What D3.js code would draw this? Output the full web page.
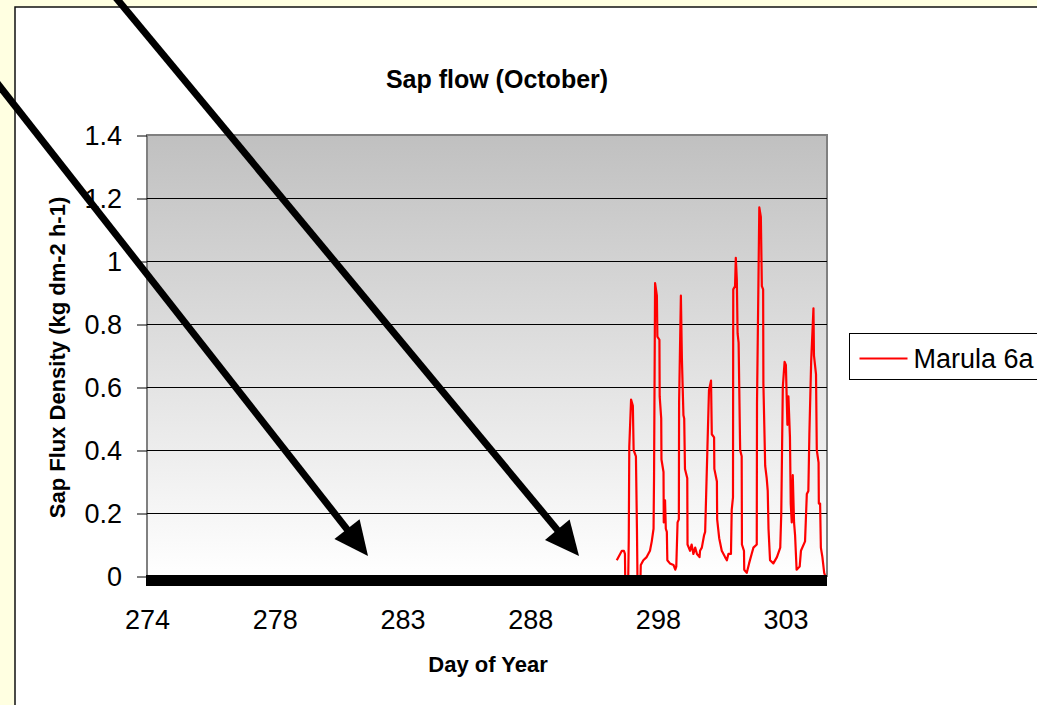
<!DOCTYPE html>
<html>
<head>
<meta charset="utf-8">
<script src="https://cdn.jsdelivr.net/npm/d3@7/dist/d3.min.js"></script>
<style>
  body { margin: 0; background: #ffffe1; }
  svg { display: block; font-family: "Liberation Sans", Arial, sans-serif; }
</style>
</head>
<body>
<svg width="1037" height="705"></svg>
<script>
// x positions are category slots (one slot per day, labels every 5 slots)
var dayLabels = ["274", "278", "283", "288", "298", "303"];
var labelSlots = [0, 5, 10, 15, 20, 25];
var yTicks = [0, 0.2, 0.4, 0.6, 0.8, 1, 1.2, 1.4];

var dayPos = [18.39, 18.59, 18.67, 18.71, 18.72, 18.84, 18.86, 18.88, 18.95, 19.02,
  19.05, 19.14, 19.18, 19.20, 19.32, 19.33, 19.43, 19.56, 19.69, 19.76,
  19.83, 19.85, 19.89, 19.96, 19.98, 20.06, 20.07, 20.13, 20.14, 20.22,
  20.23, 20.28, 20.31, 20.35, 20.37, 20.47, 20.61, 20.68, 20.72, 20.77,
  20.82, 20.83, 20.90, 20.94, 21.00, 21.03, 21.06, 21.15, 21.16, 21.26,
  21.32, 21.39, 21.46, 21.53, 21.63, 21.65, 21.72, 21.81, 21.85, 21.89,
  21.94, 22.00, 22.08, 22.11, 22.20, 22.21, 22.31, 22.32, 22.40, 22.50,
  22.63, 22.70, 22.76, 22.86, 22.89, 22.94, 22.95, 23.02, 23.05, 23.09,
  23.12, 23.16, 23.22, 23.28, 23.29, 23.37, 23.38, 23.48, 23.57, 23.67,
  23.74, 23.87, 23.88, 23.97, 24.03, 24.07, 24.12, 24.13, 24.20, 24.26,
  24.30, 24.33, 24.39, 24.52, 24.66, 24.79, 24.83, 24.89, 24.96, 25.01,
  25.07, 25.11, 25.17, 25.20, 25.24, 25.28, 25.33, 25.37, 25.43, 25.55,
  25.60, 25.76, 25.83, 25.89, 25.93, 26.00, 26.09, 26.11, 26.19, 26.22,
  26.29, 26.30, 26.35, 26.38, 26.44, 26.51, 26.55];
var sapFlux = [0.05, 0.08, 0.08, 0.07, 0.00, 0.00, 0.12, 0.41, 0.56, 0.54,
  0.40, 0.38, 0.15, 0.00, 0.00, 0.035, 0.05, 0.06, 0.08, 0.11,
  0.15, 0.32, 0.93, 0.89, 0.76, 0.75, 0.57, 0.50, 0.37, 0.33,
  0.17, 0.24, 0.15, 0.14, 0.05, 0.04, 0.035, 0.02, 0.03, 0.17,
  0.18, 0.55, 0.89, 0.69, 0.51, 0.50, 0.34, 0.31, 0.10, 0.08,
  0.10, 0.07, 0.09, 0.07, 0.06, 0.08, 0.09, 0.13, 0.14, 0.26,
  0.41, 0.59, 0.62, 0.45, 0.44, 0.34, 0.30, 0.18, 0.12, 0.08,
  0.06, 0.05, 0.07, 0.07, 0.21, 0.25, 0.91, 0.92, 1.01, 0.94,
  0.77, 0.74, 0.40, 0.38, 0.10, 0.08, 0.02, 0.01, 0.04, 0.07,
  0.09, 0.10, 0.55, 1.17, 1.14, 0.92, 0.91, 0.61, 0.35, 0.31,
  0.27, 0.15, 0.05, 0.04, 0.06, 0.09, 0.20, 0.60, 0.68, 0.67,
  0.48, 0.57, 0.44, 0.23, 0.17, 0.32, 0.17, 0.13, 0.02, 0.03,
  0.08, 0.11, 0.26, 0.27, 0.45, 0.68, 0.85, 0.70, 0.64, 0.40,
  0.36, 0.23, 0.23, 0.09, 0.06, 0.01, 0.00];

var svg = d3.select("svg"),
    margin = {top: 135, left: 147},
    width = 680,
    height = 441;

// chart area (white panel with black border, runs off the page)
svg.append("rect")
    .attr("x", 15).attr("y", 7)
    .attr("width", 1040).attr("height", 710)
    .attr("fill", "#fff")
    .attr("stroke", "#111").attr("stroke-width", 1.5);

var x = d3.scaleLinear().domain([0, 26.62]).range([margin.left, margin.left + width]);
var y = d3.scaleLinear().domain([0, 1.4]).range([margin.top + height, margin.top]);

// plot area gradient grey -> white
var grad = svg.append("defs").append("linearGradient")
    .attr("id", "bg").attr("x1", 0).attr("y1", 0).attr("x2", 0).attr("y2", 1);
grad.append("stop").attr("offset", "0%").attr("stop-color", "#c0c0c0");
grad.append("stop").attr("offset", "100%").attr("stop-color", "#ffffff");

svg.append("rect")
    .attr("x", x(0)).attr("y", y(1.4))
    .attr("width", x(26.62) - x(0)).attr("height", y(0) - y(1.4))
    .attr("fill", "url(#bg)")
    .attr("stroke", "#808080").attr("stroke-width", 2);

// gridlines
svg.append("g").selectAll("line")
    .data(yTicks.filter(d => d > 0 && d < 1.4))
    .enter().append("line")
      .attr("x1", x(0)).attr("x2", x(26.62))
      .attr("y1", d => Math.round(y(d)) + 0.5).attr("y2", d => Math.round(y(d)) + 0.5)
      .attr("stroke", "#000").attr("stroke-width", 1);

// y axis
var yAxis = svg.append("g")
    .attr("transform", "translate(" + x(0) + ",0.5)")
    .call(d3.axisLeft(y).tickValues(yTicks).tickSize(10).tickPadding(15).tickFormat(d => d));
yAxis.select(".domain").remove();
yAxis.selectAll("text").attr("font-size", 27).attr("font-family", null).attr("fill", "#000");
yAxis.selectAll("line").attr("stroke", "#000");

// x axis labels
var xAxis = svg.append("g")
    .attr("transform", "translate(0," + y(0) + ")")
    .call(d3.axisBottom(x).tickValues(labelSlots).tickSize(0).tickPadding(34)
      .tickFormat((d, i) => dayLabels[i]));
xAxis.select(".domain").remove();
xAxis.selectAll("text").attr("font-size", 27).attr("font-family", null).attr("fill", "#000");

// sap flow series
var series = dayPos.map((d, i) => ({t: d, v: sapFlux[i]}));
svg.append("path")
    .datum(series)
    .attr("fill", "none")
    .attr("stroke", "#ff0000")
    .attr("stroke-width", 2.2)
    .attr("stroke-linejoin", "round")
    .attr("d", d3.line().x(d => x(d.t)).y(d => y(d.v)));

// thick black bar drawn along zero
svg.append("rect")
    .attr("x", x(0) - 1).attr("y", y(0) - 1)
    .attr("width", x(26.62) - x(0) + 1).attr("height", 11)
    .attr("fill", "#000");

// titles
svg.append("text")
    .attr("x", 497).attr("y", 88)
    .attr("text-anchor", "middle")
    .attr("font-weight", "bold").attr("font-size", 25)
    .text("Sap flow (October)");

svg.append("text")
    .attr("x", 488).attr("y", 672)
    .attr("text-anchor", "middle")
    .attr("font-weight", "bold").attr("font-size", 22)
    .text("Day of Year");

svg.append("text")
    .attr("transform", "translate(65," + (y(0.7) + 2) + ") rotate(-90)")
    .attr("text-anchor", "middle")
    .attr("font-weight", "bold").attr("font-size", 22)
    .text("Sap Flux Density (kg dm-2 h-1)");

// legend (runs off the right edge)
var legend = svg.append("g").attr("transform", "translate(849.5,333.5)");
legend.append("rect")
    .attr("width", 220).attr("height", 46)
    .attr("fill", "#fff").attr("stroke", "#000").attr("stroke-width", 1);
legend.append("line")
    .attr("x1", 10).attr("x2", 58).attr("y1", 25).attr("y2", 25)
    .attr("stroke", "#ff0000").attr("stroke-width", 2);
legend.append("text")
    .attr("x", 64).attr("y", 34)
    .attr("font-size", 27)
    .text("Marula 6a");

// annotation arrows
function arrow(x0, y0, x1, y1) {
  var dx = x1 - x0, dy = y1 - y0, len = Math.hypot(dx, dy),
      ux = dx / len, uy = dy / len, head = 34, half = 16,
      bx = x1 - ux * head, by = y1 - uy * head;
  svg.append("line")
      .attr("x1", x0).attr("y1", y0).attr("x2", bx + ux * 2).attr("y2", by + uy * 2)
      .attr("stroke", "#000").attr("stroke-width", 7);
  svg.append("polygon")
      .attr("points", [[x1, y1], [bx - uy * half, by + ux * half], [bx + uy * half, by - ux * half]]
        .map(p => p.join(",")).join(" "))
      .attr("fill", "#000");
}
arrow(-10, 74, 368, 556);
arrow(112, -7, 579, 556);
</script>
</body>
</html>
